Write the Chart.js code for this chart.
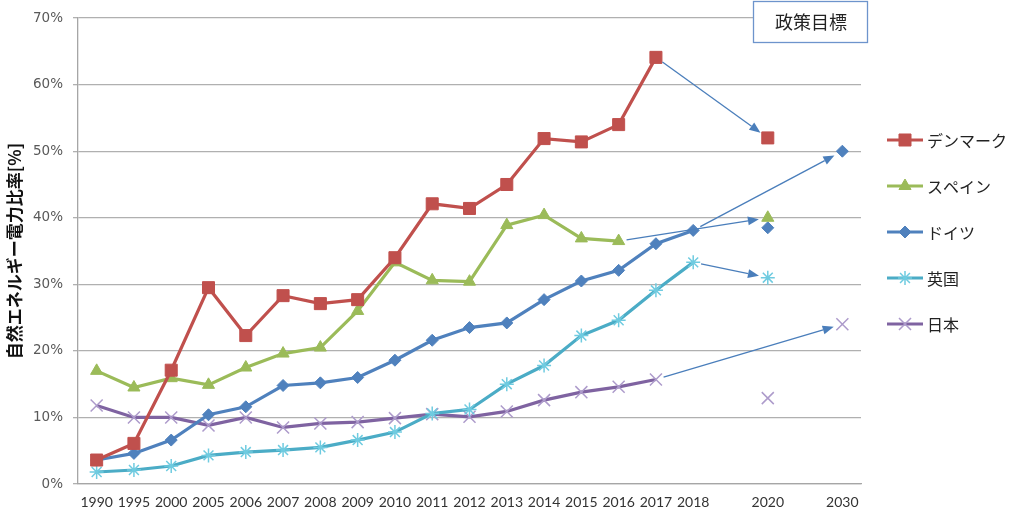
<!DOCTYPE html>
<html>
<head>
<meta charset="utf-8">
<script src="https://cdn.jsdelivr.net/npm/chart.js@4"></script>
<style>
  html, body { margin: 0; padding: 0; background: #ffffff; }
  #wrap { width: 1024px; height: 528px; }
</style>
</head>
<body>
<div id="wrap"><canvas id="chart"></canvas></div>
<script>
// categories (blank slots for 2019 and 2021-2029)
const years = ['1990', '1995', '2000', '2005', '2006', '2007', '2008', '2009', '2010',
  '2011', '2012', '2013', '2014', '2015', '2016', '2017', '2018', '', '2020', '', '2030'];

// renewable share of electricity [%]
const denmark = [3.6, 6.1, 17.1, 29.5, 22.3, 28.3, 27.1, 27.7, 34.0, 42.1, 41.4, 45.0, 51.9, 51.4, 54.0, 64.1, null, null, 52.0, null, null];
const spain   = [17.0, 14.5, 15.9, 14.9, 17.5, 19.6, 20.5, 26.0, 33.3, 30.6, 30.4, 38.9, 40.4, 36.9, 36.5, null, null, null, 40.0, null, null];
const germany = [3.6, 4.6, 6.6, 10.4, 11.6, 14.8, 15.2, 16.0, 18.6, 21.6, 23.5, 24.2, 27.7, 30.5, 32.1, 36.1, 38.1, null, 38.5, null, 50.0];
const uk      = [1.8, 2.1, 2.7, 4.3, 4.8, 5.1, 5.5, 6.6, 7.8, 10.6, 11.2, 15.0, 17.8, 22.3, 24.6, 29.1, 33.3, null, 31.0, null, null];
const japan   = [11.8, 10.0, 10.0, 8.8, 10.0, 8.5, 9.1, 9.3, 9.9, 10.5, 10.1, 10.9, 12.6, 13.8, 14.6, 15.7, null, null, 12.9, null, 24.0];

const seriesNames = ['デンマーク', 'スペイン', 'ドイツ', '英国', '日本'];

// policy target arrows: [fromYear, fromValue, toYear, toValue]
const arrows = [
  ['2017', 64.1, '2020', 52.0],
  ['2016', 36.5, '2020', 40.0],
  ['2018', 38.1, '2030', 50.0],
  ['2018', 33.3, '2020', 31.0],
  ['2017', 15.7, '2030', 24.0]
];

const yTicks = [0, 10, 20, 30, 40, 50, 60, 70];
const targetLabel = '政策目標';
const yTitle = '自然エネルギー電力比率[%]';

const styles = [
  { line: '#c0504d', mark: '#c0504d', point: 'rect', r: 8.5, w: 1 },
  { line: '#9bbb59', mark: '#9bbb59', point: 'triangle', r: 7, w: 1 },
  { line: '#4f81bd', mark: '#4f81bd', point: 'rectRot', r: 6, w: 1 },
  { line: '#4bacc6', mark: '#6fcbe0', point: 'star', r: 7, w: 1.5 },
  { line: '#7f63a1', mark: '#ad9bcb', point: 'crossRot', r: 8.5, w: 1.5 }
];

const allSeries = [denmark, spain, germany, uk, japan];

const datasets = allSeries.map((vals, i) => ({
  label: seriesNames[i],
  data: vals,
  borderColor: styles[i].line,
  backgroundColor: styles[i].mark,
  borderWidth: 3.2,
  pointStyle: styles[i].point,
  pointRadius: styles[i].r,
  pointBorderColor: styles[i].mark,
  pointBackgroundColor: styles[i].mark,
  pointBorderWidth: styles[i].w,
  pointHoverRadius: styles[i].r,
  spanGaps: false,
  tension: 0
}));

const extrasPlugin = {
  id: 'extras',
  afterDatasetsDraw(chart) {
    const ctx = chart.ctx;
    const xs = chart.scales.x, ys = chart.scales.y;
    ctx.save();
    ctx.strokeStyle = '#4a7ebb';
    ctx.fillStyle = '#4a7ebb';
    ctx.lineWidth = 1.3;
    arrows.forEach(a => {
      const x1 = xs.getPixelForValue(years.indexOf(a[0]));
      const y1 = ys.getPixelForValue(a[1]);
      const x2 = xs.getPixelForValue(years.lastIndexOf(a[2]));
      const y2 = ys.getPixelForValue(a[3]);
      const ang = Math.atan2(y2 - y1, x2 - x1);
      const sx = x1 + Math.cos(ang) * 8, sy = y1 + Math.sin(ang) * 8;
      const ex = x2 - Math.cos(ang) * 9, ey = y2 - Math.sin(ang) * 9;
      const head = 11, half = 4.5;
      const bx = ex - Math.cos(ang) * head, by = ey - Math.sin(ang) * head;
      ctx.beginPath();
      ctx.moveTo(sx, sy);
      ctx.lineTo(bx, by);
      ctx.stroke();
      ctx.beginPath();
      ctx.moveTo(ex, ey);
      ctx.lineTo(bx + Math.sin(ang) * half, by - Math.cos(ang) * half);
      ctx.lineTo(bx - Math.sin(ang) * half, by + Math.cos(ang) * half);
      ctx.closePath();
      ctx.fill();
    });
    ctx.restore();
  },
  afterDraw(chart) {
    const ctx = chart.ctx;
    ctx.save();
    // target box
    ctx.fillStyle = '#ffffff';
    ctx.fillRect(753, 1, 115, 42);
    ctx.strokeStyle = '#6d94cc';
    ctx.lineWidth = 1.3;
    ctx.strokeRect(753.5, 1.5, 114, 41);
    ctx.fillStyle = '#222222';
    ctx.font = '18px "Noto Sans CJK JP"';
    ctx.textAlign = 'center';
    ctx.textBaseline = 'middle';
    ctx.fillText(targetLabel, 811, 22);

    // legend with line + marker samples
    ctx.textAlign = 'left';
    ctx.font = '16px "Noto Sans CJK JP"';
    seriesNames.forEach((name, i) => {
      const y = 140 + i * 46;
      const st = styles[i];
      ctx.strokeStyle = st.line;
      ctx.lineWidth = 3.2;
      ctx.beginPath();
      ctx.moveTo(887, y);
      ctx.lineTo(923, y);
      ctx.stroke();
      ctx.strokeStyle = st.mark;
      ctx.fillStyle = st.mark;
      ctx.lineWidth = st.w;
      Chart.helpers.drawPoint(ctx, { pointStyle: st.point, radius: st.r, borderWidth: st.w, rotation: 0 }, 905, y);
      ctx.fillStyle = '#222222';
      ctx.fillText(name, 927, y + 1);
    });
    ctx.restore();
  }
};

new Chart(document.getElementById('chart'), {
  type: 'line',
  data: { labels: years, datasets: datasets },
  plugins: [extrasPlugin],
  options: {
    responsive: true,
    maintainAspectRatio: false,
    animation: false,
    layout: { padding: { left: 0, right: 163, top: 17, bottom: 0 } },
    plugins: {
      legend: { display: false },
      tooltip: { enabled: false }
    },
    scales: {
      x: {
        offset: true,
        grid: { display: false, drawTicks: false },
        border: { display: true, color: '#a6a6a6', width: 1.3 },
        ticks: {
          autoSkip: false,
          maxRotation: 0,
          minRotation: 0,
          padding: 10,
          color: '#333333',
          font: { family: 'Lato', size: 14 }
        },
        afterFit(scale) { scale.height = 44; }
      },
      y: {
        min: 0,
        max: 70,
        afterBuildTicks(scale) { scale.ticks = yTicks.map(v => ({ value: v })); },
        grid: { color: '#b0b0b0', lineWidth: 1.3, tickLength: 5 },
        border: { display: true, color: '#a6a6a6', width: 1.3 },
        ticks: {
          padding: 10,
          color: '#595959',
          font: { family: 'DejaVu Sans', size: 13.5 },
          callback: v => v + '%'
        },
        title: {
          display: true,
          text: yTitle,
          color: '#111111',
          padding: { top: 4, bottom: 0 },
          font: { family: 'Noto Sans CJK JP', size: 17, weight: 'bold' }
        },
        afterFit(scale) { scale.width = 78; }
      }
    }
  }
});
</script>
</body>
</html>
